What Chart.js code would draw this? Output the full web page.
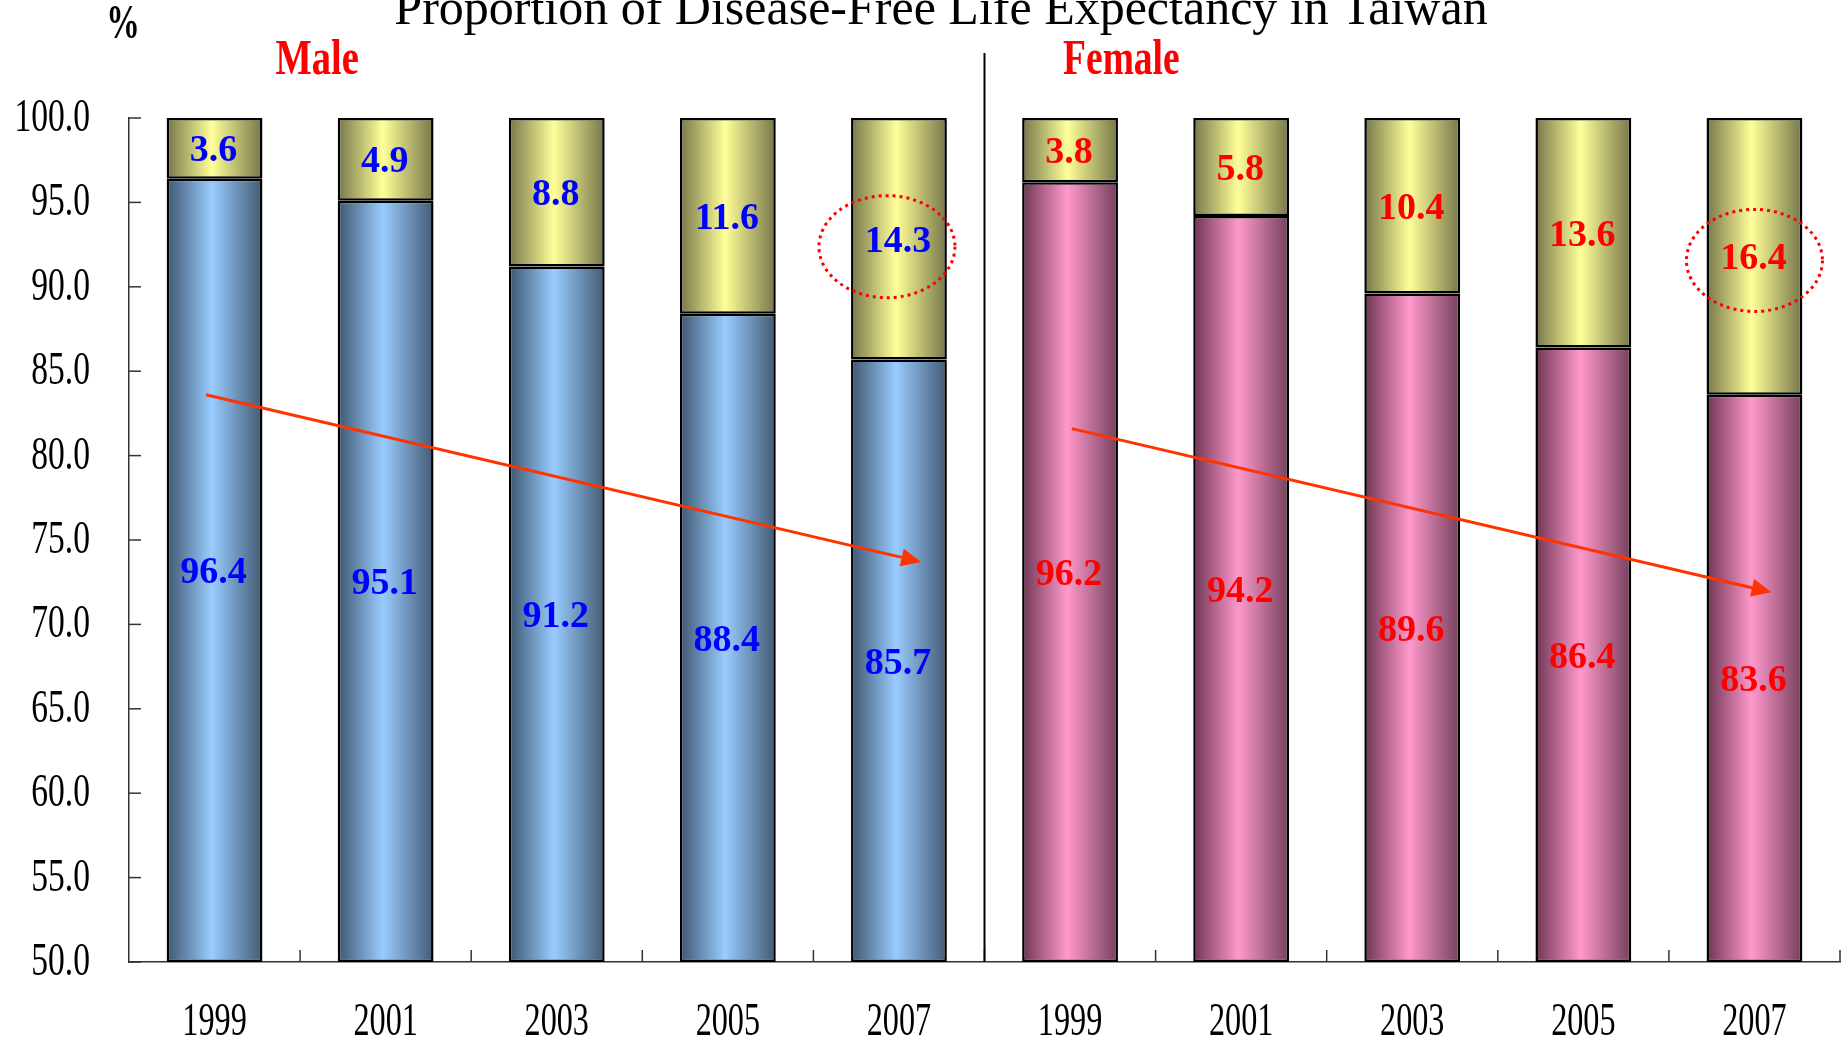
<!DOCTYPE html>
<html>
<head>
<meta charset="utf-8">
<script src="https://cdn.jsdelivr.net/npm/chart.js@4.4.1/dist/chart.umd.min.js"></script>
<style>
  html, body { margin: 0; padding: 0; background: #fff; }
  #wrap { width: 1842px; height: 1042px; position: relative; }
</style>
</head>
<body>
<div id="wrap"><canvas id="chart"></canvas></div>
<script>
// data
const years = ['1999', '2001', '2003', '2005', '2007'];
const maleFree = [96.4, 95.1, 91.2, 88.4, 85.7];
const maleDisease = [3.6, 4.9, 8.8, 11.6, 14.3];
const femaleFree = [96.2, 94.2, 89.6, 86.4, 83.6];
const femaleDisease = [3.8, 5.8, 10.4, 13.6, 16.4];
const yTicks = [50, 55, 60, 65, 70, 75, 80, 85, 90, 95, 100];

// trend arrows (category index, value) and circled bars
const trendArrows = [
    { from: [-0.05, 83.6], to: [4.13, 73.7] },
    { from: [5.01, 81.6], to: [9.10, 71.9] }
];
const circled = [{ index: 4, dx: -12, dy: 8 }, { index: 9, dx: 0, dy: 4 }];

const labels = years.concat(years);
const freeData = maleFree.concat(femaleFree);
const diseaseData = maleDisease.concat(femaleDisease);
const isMale = i => i < years.length;

const BAR_PCT = 0.56;
const SERIF = "'Liberation Serif', 'Times New Roman', serif";

function barFill(dark, light, dark2) {
    return (c) => {
        const chart = c.chart;
        const xs = chart.scales && chart.scales.x;
        if (c.dataIndex === undefined || !xs || !chart.chartArea) return light;
        const cx = xs.getPixelForValue(c.dataIndex);
        const w = xs.width / labels.length * BAR_PCT;
        const g = chart.ctx.createLinearGradient(cx - w / 2, 0, cx + w / 2, 0);
        g.addColorStop(0, dark);
        g.addColorStop(0.47, light);
        g.addColorStop(1, dark2);
        return g;
    };
}
const blueFill = barFill('#3e5670', '#99ccff', '#435a74');
const pinkFill = barFill('#6e3552', '#ff99cc', '#74405c');
const yellowFill = barFill('#76764a', '#ffff99', '#76764a');

// condensed text, the source uses narrow glyphs
function narrowText(ctx, text, x, y, font, color, sx, align) {
    ctx.save();
    ctx.font = font;
    ctx.fillStyle = color;
    ctx.textAlign = align || 'center';
    ctx.textBaseline = 'middle';
    ctx.translate(x, y);
    ctx.scale(sx, 1);
    ctx.fillText(text, 0, 0);
    ctx.restore();
}

const decorations = {
    id: 'decorations',
    afterDraw(chart) {
        const ctx = chart.ctx;
        const xs = chart.scales.x, ys = chart.scales.y;
        const area = chart.chartArea;

        // title (runs off the top edge like the source)
        ctx.save();
        ctx.font = '50px ' + SERIF;
        ctx.fillStyle = '#000';
        ctx.textAlign = 'center';
        ctx.textBaseline = 'alphabetic';
        ctx.fillText('Proportion of Disease-Free Life Expectancy in Taiwan', 941, 24);
        ctx.restore();

        narrowText(ctx, '%', 123, 26, 'bold 48px ' + SERIF, '#000', 0.7);
        narrowText(ctx, 'Male', xs.getPixelForValue(0.6), 61, 'bold 50px ' + SERIF, '#ff0000', 0.77);
        narrowText(ctx, 'Female', xs.getPixelForValue(5.3), 61, 'bold 50px ' + SERIF, '#ff0000', 0.75);

        // y axis labels + inward ticks
        ctx.save();
        ctx.strokeStyle = '#333';
        ctx.lineWidth = 1.5;
        yTicks.forEach(v => {
            const py = ys.getPixelForValue(v);
            ctx.beginPath();
            ctx.moveTo(area.left, py);
            ctx.lineTo(area.left + 12, py);
            ctx.stroke();
            narrowText(ctx, v.toFixed(1), 90, py + 1, '46px ' + SERIF, '#000', 0.73, 'right');
        });
        // x axis ticks at category boundaries, pointing up
        for (let k = 1; k <= labels.length; k++) {
            const px = xs.getPixelForValue(k - 0.5);
            ctx.beginPath();
            ctx.moveTo(px, area.bottom);
            ctx.lineTo(px, area.bottom - 12);
            ctx.stroke();
        }
        labels.forEach((lab, i) => {
            narrowText(ctx, lab, xs.getPixelForValue(i), 1023, '46px ' + SERIF, '#000', 0.7);
        });
        // divider between male and female
        const dx = xs.getPixelForValue(years.length - 0.5);
        ctx.strokeStyle = '#000';
        ctx.lineWidth = 2;
        ctx.beginPath();
        ctx.moveTo(dx, 53);
        ctx.lineTo(dx, area.bottom);
        ctx.stroke();
        ctx.restore();

        // value labels
        chart.data.datasets.forEach((ds, di) => {
            const meta = chart.getDatasetMeta(di);
            meta.data.forEach((el, i) => {
                const bottom = Math.min(el.base, area.bottom);
                const cy = (el.y + bottom) / 2 + 3;
                narrowText(ctx, ds.data[i].toFixed(1), el.x - 1, cy, 'bold 38px ' + SERIF,
                    isMale(i) ? '#0000ff' : '#ff0000', 1);
            });
        });

        // trend arrows
        ctx.save();
        ctx.strokeStyle = '#ff3300';
        ctx.fillStyle = '#ff3300';
        ctx.lineWidth = 3;
        trendArrows.forEach(a => {
            const x1 = xs.getPixelForValue(a.from[0]), y1 = ys.getPixelForValue(a.from[1]);
            const x2 = xs.getPixelForValue(a.to[0]), y2 = ys.getPixelForValue(a.to[1]);
            const ang = Math.atan2(y2 - y1, x2 - x1);
            const hl = 20, hw = 9;
            const bx = x2 - hl * Math.cos(ang), by = y2 - hl * Math.sin(ang);
            ctx.beginPath();
            ctx.moveTo(x1, y1);
            ctx.lineTo(bx, by);
            ctx.stroke();
            ctx.beginPath();
            ctx.moveTo(x2, y2);
            ctx.lineTo(bx + hw * Math.sin(ang), by - hw * Math.cos(ang));
            ctx.lineTo(bx - hw * Math.sin(ang), by + hw * Math.cos(ang));
            ctx.closePath();
            ctx.fill();
        });
        ctx.restore();

        // dotted circles around the latest disease share
        const topMeta = chart.getDatasetMeta(1);
        ctx.save();
        ctx.strokeStyle = '#ff0000';
        ctx.lineWidth = 3;
        ctx.setLineDash([3, 4]);
        circled.forEach(c => {
            const el = topMeta.data[c.index];
            ctx.beginPath();
            ctx.ellipse(el.x + c.dx, (el.y + el.base) / 2 + c.dy, 68, 51, 0, 0, Math.PI * 2);
            ctx.stroke();
        });
        ctx.restore();
    }
};

new Chart(document.getElementById('chart'), {
    type: 'bar',
    data: {
        labels: labels,
        datasets: [{
            label: 'Disease-free',
            data: freeData,
            base: 50,
            stack: 'all',
            backgroundColor: (c) => (c.dataIndex !== undefined && !isMale(c.dataIndex) ? pinkFill(c) : blueFill(c)),
            borderColor: '#000',
            borderWidth: 2.5,
            borderSkipped: false,
            barPercentage: BAR_PCT,
            categoryPercentage: 1
        }, {
            label: 'With disease',
            data: diseaseData,
            stack: 'all',
            backgroundColor: yellowFill,
            borderColor: '#000',
            borderWidth: 2.5,
            borderSkipped: false,
            barPercentage: BAR_PCT,
            categoryPercentage: 1
        }]
    },
    options: {
        responsive: true,
        maintainAspectRatio: false,
        animation: false,
        events: [],
        layout: { padding: { top: 118, right: 2, left: 0, bottom: 0 } },
        plugins: { legend: { display: false }, tooltip: { enabled: false } },
        scales: {
            x: {
                stacked: true,
                offset: true,
                grid: { display: false },
                border: { display: true, color: '#333', width: 1.5 },
                ticks: { display: false },
                afterFit: (s) => { s.height = 80; }
            },
            y: {
                stacked: true,
                min: 50,
                max: 100,
                grid: { display: false },
                border: { display: true, color: '#333', width: 1.5 },
                ticks: { display: false, stepSize: 5 },
                afterFit: (s) => { s.width = 129; }
            }
        }
    },
    plugins: [decorations]
});
</script>
</body>
</html>
